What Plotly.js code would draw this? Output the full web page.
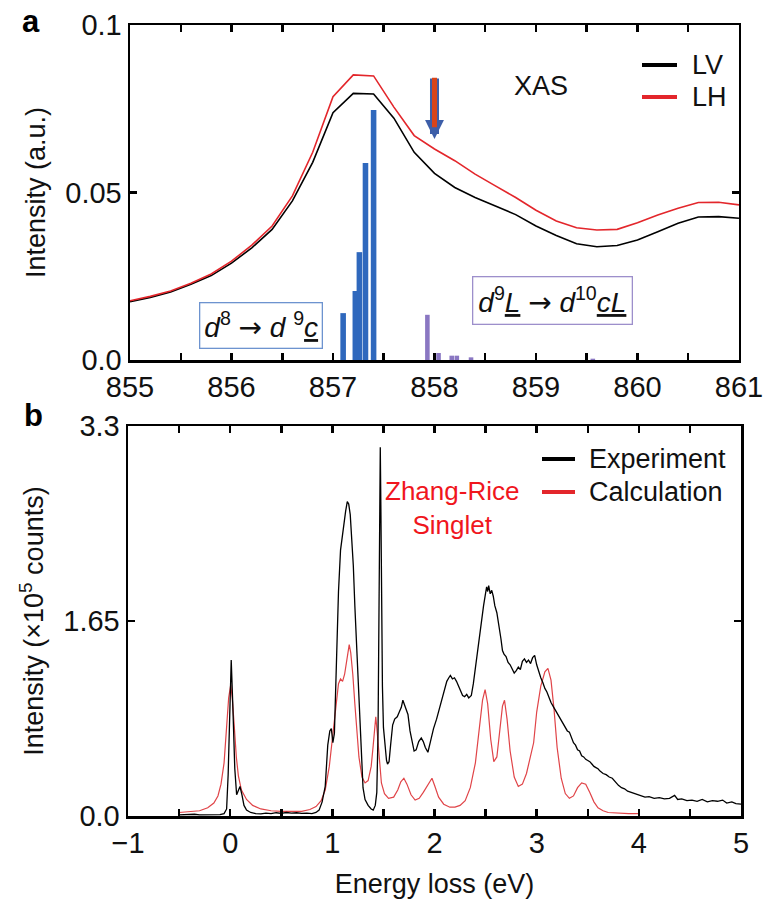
<!DOCTYPE html>
<html>
<head>
<meta charset="utf-8">
<script src="https://cdn.plot.ly/plotly-3.0.1.min.js"></script>
<style>html,body{margin:0;padding:0;background:#fff;}#chart{width:763px;height:903px;}</style>
</head>
<body>
<div id="chart"></div>
<script>
// ---------- Panel a: XAS ----------
const xasE = [855.0,855.2,855.4,855.6,855.8,856.0,856.2,856.4,856.6,856.8,857.0,857.2,857.4,857.6,857.8,858.0,858.2,858.4,858.6,858.8,859.0,859.2,859.4,859.6,859.8,860.0,860.2,860.4,860.6,860.8,861.0];
const lvI = [0.0174,0.0187,0.0203,0.0226,0.0252,0.0289,0.0335,0.0390,0.0475,0.0590,0.0738,0.0796,0.0794,0.0722,0.0620,0.0557,0.0515,0.0485,0.0460,0.0434,0.0400,0.0372,0.0347,0.0338,0.0342,0.0358,0.0383,0.0408,0.0427,0.0428,0.0423];
const lhI = [0.0177,0.0190,0.0206,0.0229,0.0257,0.0295,0.0343,0.0400,0.0490,0.0620,0.0786,0.0851,0.0848,0.0755,0.0670,0.0630,0.0595,0.0555,0.0520,0.0485,0.0447,0.0415,0.0395,0.0388,0.0390,0.0410,0.0433,0.0453,0.0470,0.0471,0.0463];
const d8E = [857.10,857.22,857.26,857.32,857.40];
const d8I = [0.0140,0.0206,0.0322,0.0588,0.0746];
const d9E = [857.93,858.04,858.17,858.22,858.36,859.56];
const d9I = [0.0135,0.0021,0.0013,0.0013,0.0008,0.0004];
const aXTicks = [855,856,857,858,859,860,861];
const aYTicks = [0,0.05,0.1];
const aYText = ['0.0','0.05','0.1'];
const aSeries = ['LV','LH'];

// ---------- Panel b: RIXS ----------
const expE = [-0.50,-0.45,-0.40,-0.35,-0.30,-0.25,-0.20,-0.15,-0.10,-0.06,-0.035,-0.02,-0.005,0.010,0.025,0.045,0.063,0.080,0.096,0.115,0.135,0.16,0.20,0.25,0.30,0.35,0.40,0.45,0.50,0.55,0.60,0.65,0.70,0.75,0.80,0.84,0.87,0.90,0.93,0.955,0.975,0.99,1.005,1.02,1.04,1.06,1.08,1.10,1.115,1.13,1.146,1.16,1.175,1.19,1.205,1.22,1.24,1.255,1.27,1.285,1.30,1.32,1.35,1.38,1.40,1.42,1.435,1.447,1.457,1.464,1.469,1.475,1.482,1.49,1.50,1.515,1.53,1.54,1.555,1.57,1.59,1.61,1.635,1.655,1.675,1.69,1.705,1.72,1.74,1.76,1.78,1.80,1.82,1.845,1.87,1.89,1.91,1.935,1.96,1.99,2.02,2.05,2.08,2.10,2.12,2.14,2.155,2.175,2.195,2.215,2.235,2.255,2.275,2.295,2.315,2.335,2.36,2.38,2.40,2.42,2.44,2.46,2.48,2.495,2.51,2.52,2.53,2.545,2.56,2.575,2.59,2.61,2.63,2.65,2.665,2.68,2.70,2.72,2.74,2.76,2.78,2.80,2.82,2.84,2.86,2.88,2.90,2.92,2.94,2.96,2.98,3.00,3.02,3.04,3.06,3.08,3.10,3.12,3.14,3.16,3.18,3.20,3.22,3.24,3.26,3.28,3.30,3.32,3.34,3.36,3.38,3.40,3.42,3.44,3.46,3.48,3.50,3.52,3.54,3.56,3.58,3.60,3.62,3.65,3.68,3.71,3.74,3.77,3.80,3.83,3.86,3.89,3.92,3.95,3.98,4.02,4.06,4.10,4.15,4.20,4.25,4.30,4.35,4.38,4.42,4.47,4.52,4.57,4.62,4.67,4.72,4.77,4.82,4.86,4.91,4.95,5.00];
const expI = [0.010,0.012,0.008,0.015,0.010,0.012,0.009,0.014,0.012,0.020,0.060,0.35,0.95,1.32,0.95,0.40,0.18,0.21,0.25,0.18,0.09,0.05,0.030,0.020,0.018,0.025,0.020,0.028,0.022,0.030,0.024,0.028,0.022,0.025,0.020,0.030,0.050,0.12,0.25,0.60,0.72,0.74,0.62,0.70,1.30,1.90,2.25,2.40,2.48,2.58,2.66,2.64,2.55,2.35,2.12,1.78,1.40,1.05,0.74,0.45,0.24,0.14,0.09,0.06,0.05,0.09,0.20,0.70,1.60,2.50,3.12,2.60,1.80,1.10,0.75,0.58,0.47,0.44,0.46,0.60,0.77,0.82,0.84,0.88,0.92,0.98,0.94,0.91,0.86,0.72,0.62,0.55,0.56,0.63,0.66,0.63,0.58,0.54,0.63,0.74,0.82,0.92,1.02,1.08,1.14,1.17,1.19,1.16,1.17,1.14,1.10,1.07,1.02,1.01,1.03,1.00,1.02,1.12,1.26,1.38,1.52,1.65,1.78,1.86,1.94,1.90,1.95,1.88,1.91,1.86,1.78,1.72,1.62,1.50,1.40,1.37,1.35,1.30,1.28,1.24,1.21,1.23,1.26,1.24,1.31,1.33,1.30,1.32,1.29,1.34,1.36,1.28,1.22,1.17,1.13,1.08,1.05,1.00,0.96,0.93,0.90,0.86,0.84,0.80,0.78,0.75,0.72,0.71,0.66,0.62,0.60,0.56,0.55,0.51,0.50,0.48,0.47,0.46,0.44,0.42,0.41,0.40,0.38,0.36,0.35,0.33,0.32,0.29,0.26,0.24,0.23,0.21,0.20,0.19,0.18,0.17,0.16,0.165,0.15,0.155,0.145,0.15,0.175,0.14,0.145,0.13,0.135,0.125,0.14,0.12,0.13,0.125,0.135,0.11,0.12,0.105,0.10];
const calE = [-0.50,-0.40,-0.30,-0.22,-0.16,-0.12,-0.09,-0.06,-0.035,-0.015,0.005,0.02,0.04,0.06,0.08,0.11,0.16,0.22,0.30,0.40,0.50,0.60,0.70,0.78,0.84,0.89,0.93,0.97,1.00,1.03,1.06,1.08,1.10,1.12,1.14,1.165,1.18,1.20,1.22,1.24,1.26,1.29,1.32,1.35,1.38,1.40,1.425,1.44,1.46,1.48,1.51,1.55,1.60,1.64,1.67,1.70,1.73,1.77,1.81,1.85,1.89,1.93,1.975,2.00,2.04,2.09,2.15,2.20,2.25,2.30,2.35,2.40,2.44,2.47,2.495,2.52,2.55,2.58,2.61,2.64,2.665,2.685,2.71,2.74,2.78,2.82,2.86,2.90,2.94,2.97,3.00,3.04,3.08,3.11,3.14,3.17,3.20,3.24,3.28,3.32,3.36,3.40,3.44,3.48,3.52,3.56,3.60,3.65,3.70,3.80,3.90,4.00];
const calI = [0.030,0.035,0.045,0.070,0.11,0.17,0.27,0.45,0.75,1.00,1.11,1.00,0.76,0.50,0.34,0.22,0.14,0.09,0.06,0.045,0.040,0.038,0.040,0.055,0.080,0.13,0.22,0.42,0.65,0.92,1.12,1.16,1.14,1.20,1.33,1.45,1.38,1.20,0.95,0.70,0.50,0.33,0.28,0.30,0.42,0.60,0.84,0.70,0.45,0.28,0.19,0.15,0.16,0.22,0.29,0.32,0.27,0.18,0.135,0.15,0.20,0.26,0.32,0.26,0.16,0.10,0.075,0.075,0.09,0.13,0.24,0.45,0.75,0.98,1.07,0.95,0.65,0.46,0.50,0.74,0.93,0.98,0.82,0.55,0.33,0.25,0.27,0.36,0.50,0.62,0.88,1.10,1.22,1.25,1.15,0.90,0.58,0.32,0.19,0.15,0.17,0.24,0.28,0.27,0.20,0.12,0.07,0.045,0.030,0.022,0.020,0.020];
const bXTicks = [-1,0,1,2,3,4,5];
const bYTicks = [0,1.65,3.3];
const bYText = ['0.0','1.65','3.3'];
const bSeries = ['Experiment','Calculation'];

const FONT = 'Liberation Sans, Arial, Helvetica, sans-serif';
const RED = '#e3262b';
const BLUE = '#2f68bd';
const PURPLE = '#8a77c2';
const ARROW = '<span style="font-family:DejaVu Sans">→</span>';
const W = 763, H = 903;
const px = v => v / W, py = v => 1 - v / H;

const traces = [
  {x: d8E, y: d8I, type: 'bar', width: 0.055, marker: {color: BLUE, line: {width: 0}}, xaxis: 'x', yaxis: 'y', hoverinfo: 'skip'},
  {x: d9E, y: d9I, type: 'bar', width: 0.045, marker: {color: PURPLE, line: {width: 0}}, xaxis: 'x', yaxis: 'y', hoverinfo: 'skip'},
  {x: xasE, y: lvI, name: aSeries[0], type: 'scatter', mode: 'lines', line: {color: '#000', width: 1.6}, xaxis: 'x', yaxis: 'y'},
  {x: xasE, y: lhI, name: aSeries[1], type: 'scatter', mode: 'lines', line: {color: RED, width: 1.6}, xaxis: 'x', yaxis: 'y'},
  {x: calE, y: calI, name: bSeries[1], type: 'scatter', mode: 'lines', line: {color: '#e04448', width: 1.2}, xaxis: 'x2', yaxis: 'y2'},
  {x: expE, y: expI, name: bSeries[0], type: 'scatter', mode: 'lines', line: {color: '#000', width: 1.3}, xaxis: 'x2', yaxis: 'y2'}
];

const axisCommon = {
  showline: true, linecolor: '#000', linewidth: 2.5, mirror: 'allticks',
  ticks: 'inside', ticklen: 7, tickwidth: 2.5, tickcolor: '#000',
  showgrid: false, zeroline: false, ticklabeloverflow: 'allow',
  tickfont: {family: FONT, size: 29, color: '#111'}
};
const minorX = {dtick: 0.5, ticks: 'inside', ticklen: 7, tickwidth: 2.5, tickcolor: '#000'};

// manual legends (line samples + labels)
const legendItems = [
  {name: aSeries[0], color: '#000', x0: 642, x1: 677, tx: 690, y: 65},
  {name: aSeries[1], color: RED,    x0: 642, x1: 677, tx: 690, y: 97},
  {name: bSeries[0], color: '#000', x0: 542, x1: 575, tx: 587, y: 459},
  {name: bSeries[1], color: RED,    x0: 542, x1: 575, tx: 587, y: 492}
];
const shapes = legendItems.map(it => ({type: 'line', xref: 'paper', yref: 'paper',
  x0: px(it.x0), x1: px(it.x1), y0: py(it.y), y1: py(it.y), line: {color: it.color, width: 4}}));
const legendTexts = legendItems.map(it => ({text: it.name, xref: 'paper', yref: 'paper',
  x: px(it.tx), y: py(it.y), xanchor: 'left', yanchor: 'middle', showarrow: false,
  font: {family: FONT, size: 27, color: '#111'}}));

const layout = {
  width: W, height: H,
  margin: {l: 0, r: 0, t: 0, b: 0},
  paper_bgcolor: '#fff', plot_bgcolor: '#fff',
  font: {family: FONT, size: 26, color: '#111'},
  barmode: 'overlay', showlegend: false,
  xaxis: Object.assign({}, axisCommon, {
    domain: [0.1704, 0.9685], anchor: 'y', range: [855, 861],
    tickvals: aXTicks, ticktext: aXTicks.map(String), minor: minorX
  }),
  yaxis: Object.assign({}, axisCommon, {
    domain: [0.6013, 0.9723], anchor: 'x', range: [0, 0.1],
    tickvals: aYTicks, ticktext: aYText,
    title: {text: 'Intensity (a.u.)', font: {family: FONT, size: 27, color: '#111'}, standoff: 12}
  }),
  xaxis2: Object.assign({}, axisCommon, {
    domain: [0.1678, 0.9712], anchor: 'y2', range: [-1, 5],
    tickvals: bXTicks, minor: minorX,
    title: {text: 'Energy loss (eV)', font: {family: FONT, size: 27, color: '#111'}, standoff: 16}
  }),
  yaxis2: Object.assign({}, axisCommon, {
    domain: [0.0963, 0.5282], anchor: 'x2', range: [0, 3.3],
    tickvals: bYTicks, ticktext: bYText,
    title: {text: 'Intensity (×10<sup>5</sup> counts)', font: {family: FONT, size: 27, color: '#111'}, standoff: 12}
  }),
  shapes: shapes,
  annotations: [
    {text: '<b>a</b>', xref: 'paper', yref: 'paper', x: px(31), y: py(21), xanchor: 'center', yanchor: 'middle', showarrow: false, font: {family: FONT, size: 31, color: '#000'}},
    {text: '<b>b</b>', xref: 'paper', yref: 'paper', x: px(33), y: py(415), xanchor: 'center', yanchor: 'middle', showarrow: false, font: {family: FONT, size: 31, color: '#000'}},
    {text: 'XAS', xref: 'x', yref: 'y', x: 859.05, y: 0.0818, showarrow: false, font: {family: FONT, size: 27, color: '#111'}},
    {text: '<i>d</i><sup>8</sup> ' + ARROW + ' <i>d</i> <sup>9</sup><i><u>c</u></i>', xref: 'x', yref: 'y', x: 856.29, y: 0.0104, showarrow: false,
     font: {family: FONT, size: 28, color: '#111'}, bordercolor: '#6d93cf', borderwidth: 1.3, borderpad: 4, bgcolor: '#fff'},
    {text: '<i>d</i><sup>9</sup><i><u>L</u></i> ' + ARROW + ' <i>d</i><sup>10</sup><i><u>cL</u></i>', xref: 'x', yref: 'y', x: 859.16, y: 0.0179, showarrow: false,
     font: {family: FONT, size: 28, color: '#111'}, bordercolor: '#9d8fcb', borderwidth: 1.3, borderpad: 5, bgcolor: '#fff'},
    {text: '', xref: 'x', yref: 'y', x: 858.0, y: 0.0660, ax: 0, ay: -62, showarrow: true, arrowhead: 2, arrowsize: 0.42, arrowwidth: 9, arrowcolor: '#3d5ea8'},
    {text: '', xref: 'x', yref: 'y', x: 858.0, y: 0.0695, ax: 0, ay: -51, showarrow: true, arrowhead: 0, arrowwidth: 5, arrowcolor: '#d8441a'},
    {text: 'Zhang-Rice<br>Singlet', xref: 'x2', yref: 'y2', x: 2.17, y: 2.61, showarrow: false,
     font: {family: FONT, size: 26, color: '#f0161d'}}
  ].concat(legendTexts)
};

Plotly.newPlot('chart', traces, layout, {staticPlot: true, displayModeBar: false});
</script>
</body>
</html>
